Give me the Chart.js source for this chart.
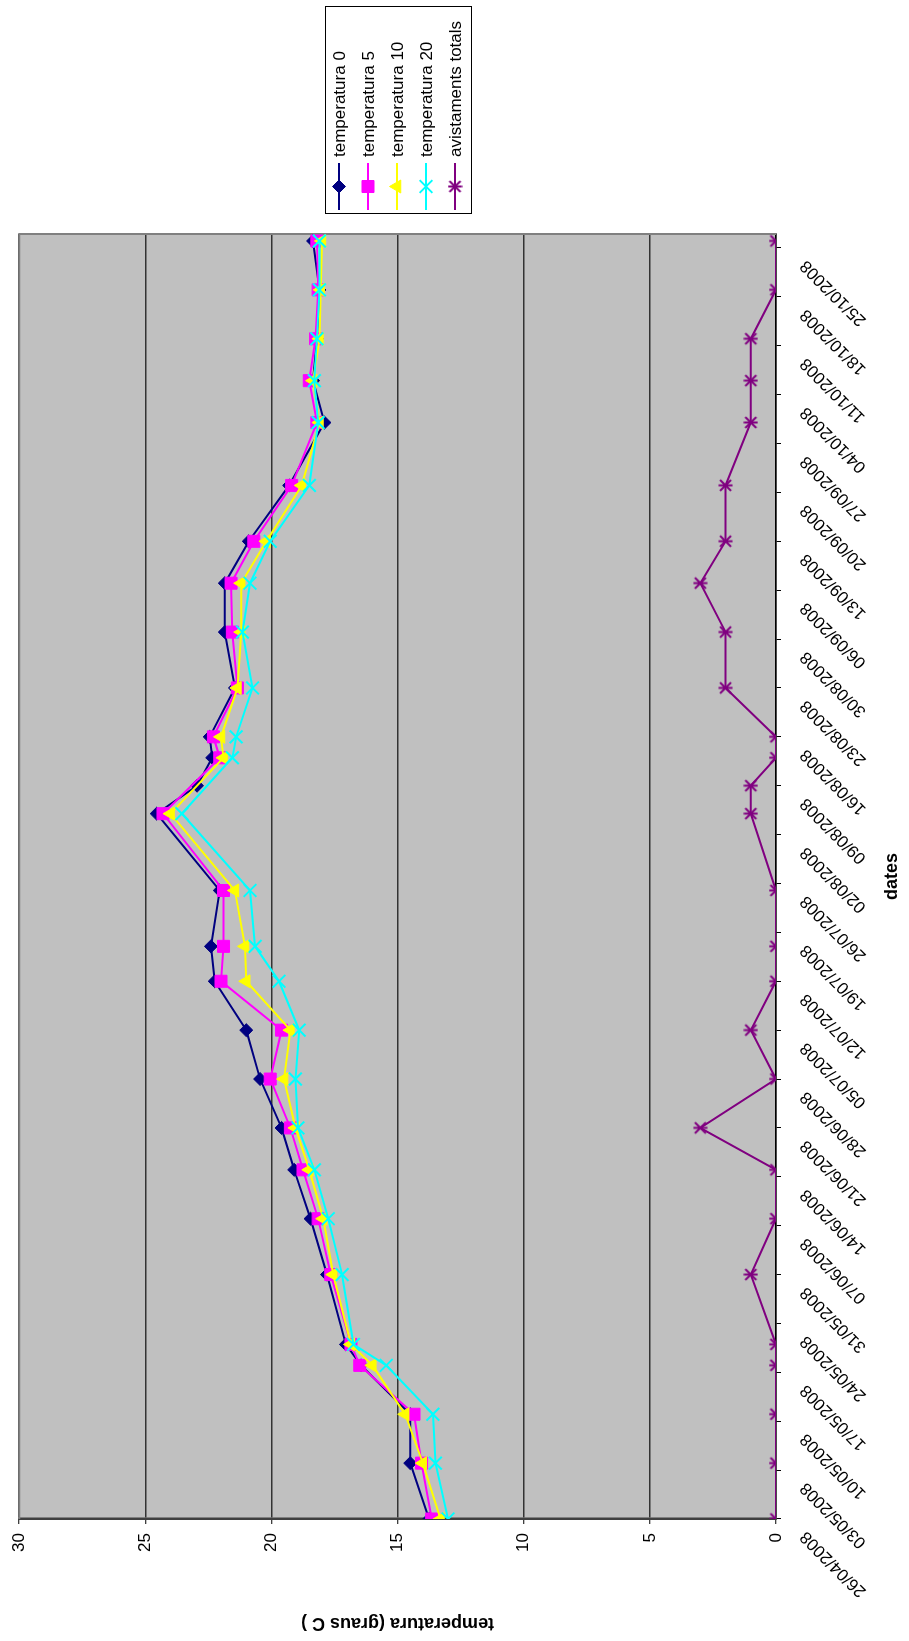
<!DOCTYPE html>
<html>
<head>
<meta charset="utf-8">
<script src="https://cdn.jsdelivr.net/npm/chart.js@4.4.1/dist/chart.umd.min.js"></script>
<style>
  html, body { margin: 0; padding: 0; background: #fff; width: 909px; height: 1641px; overflow: hidden; }
  /* the chart is laid out landscape and turned a quarter turn to stand upright on the page */
  #frame { position: absolute; left: 0; top: 0; width: 1641px; height: 909px;
           transform-origin: 0 0; transform: translate(0, 1641px) rotate(-90deg); }
  canvas { display: block; }
</style>
</head>
<body>
<div id="frame"><canvas id="chart" width="1641" height="909"></canvas></div>
<script>
// observation dates
const dates = ['26/04/2008','04/05/2008','11/05/2008','18/05/2008','21/05/2008','31/05/2008',
  '08/06/2008','15/06/2008','21/06/2008','28/06/2008','05/07/2008','12/07/2008','17/07/2008',
  '25/07/2008','05/08/2008','09/08/2008','13/08/2008','16/08/2008','23/08/2008','31/08/2008',
  '07/09/2008','13/09/2008','21/09/2008','30/09/2008','06/10/2008','12/10/2008','19/10/2008',
  '26/10/2008'];

// water temperature (°C) at 0, 5, 10 and 20 m
const temp0  = [13.75, 14.5, 14.5, 16.45, 17.05, 17.8, 18.45, 19.1, 19.6, 20.45, 21.0, 22.25, 22.4, 22.05,
                24.55, 22.95, 22.35, 22.45, 21.45, 21.85, 21.85, 20.9, 19.3, 17.9, 18.35, 18.2, 18.1, 18.35];
const temp5  = [13.65, 14.05, 14.35, 16.5, 16.85, 17.65, 18.15, 18.75, 19.25, 20.05, 19.6, 22.0, 21.9, 21.9,
                24.3, null, 22.05, 22.3, 21.35, 21.55, 21.6, 20.7, 19.2, 18.2, 18.5, 18.25, 18.15, 18.2];
const temp10 = [13.3, 14.0, 14.7, 16.0, 16.85, 17.55, 17.95, 18.5, 19.05, 19.5, 19.25, 21.0, 21.05, 21.45,
                24.0, null, 21.9, 22.0, 21.35, 21.2, 21.2, 20.2, 18.8, 18.1, 18.35, 18.1, 18.05, 18.0];
const temp20 = [13.0, 13.5, 13.6, 15.45, 16.75, 17.2, 17.75, 18.3, 18.95, 19.05, 18.9, 19.7, 20.65, 20.85,
                23.55, null, 21.55, 21.4, 20.75, 21.15, 20.85, 20.05, 18.5, 18.15, 18.3, 18.2, 18.1, 18.1];
// total sightings
const avistaments = [0, 0, 0, 0, 0, 1, 0, 0, 3, 0, 1, 0, 0, 0, 1, 1, 0, 0, 2, 2, 3, 2, 2, 1, 1, 1, 0, 0];

// weekly date-axis labels and axis range
const tickLabels = ['26/04/2008','03/05/2008','10/05/2008','17/05/2008','24/05/2008','31/05/2008',
  '07/06/2008','14/06/2008','21/06/2008','28/06/2008','05/07/2008','12/07/2008','19/07/2008',
  '26/07/2008','02/08/2008','09/08/2008','16/08/2008','23/08/2008','30/08/2008','06/09/2008',
  '13/09/2008','20/09/2008','27/09/2008','04/10/2008','11/10/2008','18/10/2008','25/10/2008'];
const axisEnd = '27/10/2008';
const tempTicks = [0, 5, 10, 15, 20, 25, 30];

const seriesNames = ['temperatura 0', 'temperatura 5', 'temperatura 10', 'temperatura 20', 'avistaments totals'];

// day number counted from the first tick date
function toUTC(s) { const [d, m, y] = s.split('/').map(Number); return Date.UTC(y, m - 1, d); }
const base = toUTC(tickLabels[0]);
const dayOf = s => Math.round((toUTC(s) - base) / 86400000);
const xs = dates.map(dayOf);
const pts = arr => arr.map((v, i) => ({ x: xs[i], y: v }));

const FONT = 'Liberation Sans, Arial, Helvetica, sans-serif';
Chart.defaults.font.family = FONT;
Chart.defaults.font.size = 17;
Chart.defaults.color = '#000';

// six-armed asterisk marker
function asterisk(color, size, lw) {
  const c = document.createElement('canvas');
  c.width = c.height = size;
  const g = c.getContext('2d');
  g.strokeStyle = color; g.lineWidth = lw;
  const m = size / 2, r = size / 2 - 0.5, d = r * 0.78;
  g.beginPath();
  g.moveTo(m, m - r); g.lineTo(m, m + r);
  g.moveTo(m - d, m - d); g.lineTo(m + d, m + d);
  g.moveTo(m + d, m - d); g.lineTo(m - d, m + d);
  g.stroke();
  return c;
}

function series(label, data, color, style, radius, order, extra) {
  return Object.assign({
    label, data: pts(data), order,
    borderColor: color, backgroundColor: color,
    borderWidth: 2,
    pointStyle: style, pointRadius: radius,
    pointBackgroundColor: color, pointBorderColor: color, pointBorderWidth: 1,
    spanGaps: true, tension: 0
  }, extra || {});
}

const datasets = [
  series(seriesNames[0], temp0,  '#000080', 'rectRot', 6.5, 5),
  series(seriesNames[1], temp5,  '#FF00FF', 'rect', 8.5, 4),
  series(seriesNames[2], temp10, '#FFFF00', 'triangle', 7.5, 3),
  series(seriesNames[3], temp20, '#00FFFF', 'crossRot', 9, 2, { pointBorderWidth: 2 }),
  series(seriesNames[4], avistaments, '#800080', asterisk('#800080', 15, 2), 7, 1)
];

// grey plot area with its frame
const plotArea = {
  id: 'plotArea',
  beforeDraw(chart) {
    const { ctx, chartArea: a } = chart;
    ctx.save();
    ctx.fillStyle = '#C0C0C0';
    ctx.fillRect(a.left, a.top, a.right - a.left, a.bottom - a.top);
    ctx.restore();
  },
  beforeDatasetsDraw(chart) {
    const { ctx, chartArea: a } = chart;
    ctx.save();
    ctx.strokeStyle = '#808080';
    ctx.lineWidth = 2;
    ctx.beginPath();
    ctx.moveTo(a.left, a.top); ctx.lineTo(a.right, a.top); ctx.lineTo(a.right, a.bottom);
    ctx.stroke();
    ctx.restore();
  }
};

// boxed legend with line-and-marker keys
const boxLegend = {
  id: 'boxLegend',
  afterDraw(chart) {
    const { ctx } = chart;
    const bx = 1427, by = 325, bw = 207, bh = 146;
    const rowY = [339, 368, 397, 426, 455];
    ctx.save();
    ctx.fillStyle = '#fff';
    ctx.fillRect(bx, by, bw, bh);
    ctx.strokeStyle = '#000';
    ctx.lineWidth = 1;
    ctx.strokeRect(bx + 0.5, by + 0.5, bw, bh);
    chart.data.datasets.forEach((ds, i) => {
      const y = rowY[i];
      ctx.strokeStyle = ds.borderColor;
      ctx.lineWidth = ds.borderWidth;
      ctx.beginPath(); ctx.moveTo(1431, y); ctx.lineTo(1478, y); ctx.stroke();
      ctx.fillStyle = ds.pointBackgroundColor;
      ctx.strokeStyle = ds.pointBorderColor;
      ctx.lineWidth = ds.pointBorderWidth;
      Chart.helpers.drawPoint(ctx, {
        pointStyle: ds.pointStyle, radius: ds.pointRadius, rotation: 0, borderWidth: ds.pointBorderWidth
      }, 1454.5, y);
      ctx.fillStyle = '#000';
      ctx.font = '17px ' + FONT;
      ctx.textAlign = 'left';
      ctx.textBaseline = 'middle';
      ctx.fillText(ds.label, 1484, y + 1);
    });
    ctx.restore();
  }
};

new Chart(document.getElementById('chart'), {
  type: 'line',
  data: { datasets },
  options: {
    responsive: false,
    devicePixelRatio: 1,
    animation: false,
    events: [],
    layout: { padding: { left: 0, top: 18, right: 234, bottom: 0 } },
    plugins: { legend: { display: false }, tooltip: { enabled: false } },
    scales: {
      x: {
        type: 'linear',
        min: dayOf(tickLabels[0]),
        max: dayOf(axisEnd),
        afterBuildTicks(axis) { axis.ticks = tickLabels.map(l => ({ value: dayOf(l) })); },
        afterFit(axis) { axis.height = 133; },
        ticks: {
          autoSkip: false, minRotation: 45, maxRotation: 45,
          padding: 15, labelOffset: -15,
          font: { size: 17 },
          callback: (v, i) => tickLabels[i]
        },
        grid: { drawOnChartArea: false, drawTicks: true, tickLength: 5, tickColor: '#000', tickWidth: 1 },
        border: { display: true, color: '#000', width: 1.5 },
        title: { display: true, text: 'dates', font: { size: 18, weight: 'bold' }, padding: { top: 0, bottom: 6 } }
      },
      y: {
        min: 0, max: 30,
        afterBuildTicks(axis) { axis.ticks = tempTicks.map(v => ({ value: v })); },
        afterFit(axis) { axis.width = 122; },
        ticks: { padding: 9, font: { size: 17 }, callback: v => String(v) },
        grid: { color: '#333', lineWidth: 1.5, drawTicks: true, tickLength: 5, tickColor: '#000', tickWidth: 1 },
        border: { display: true, color: '#404040', width: 2.5 },
        title: { display: true, text: 'temperatura (graus C )', font: { size: 18, weight: 'bold' }, padding: { top: 7, bottom: 0 } }
      }
    }
  },
  plugins: [plotArea, boxLegend]
});
</script>
</body>
</html>
